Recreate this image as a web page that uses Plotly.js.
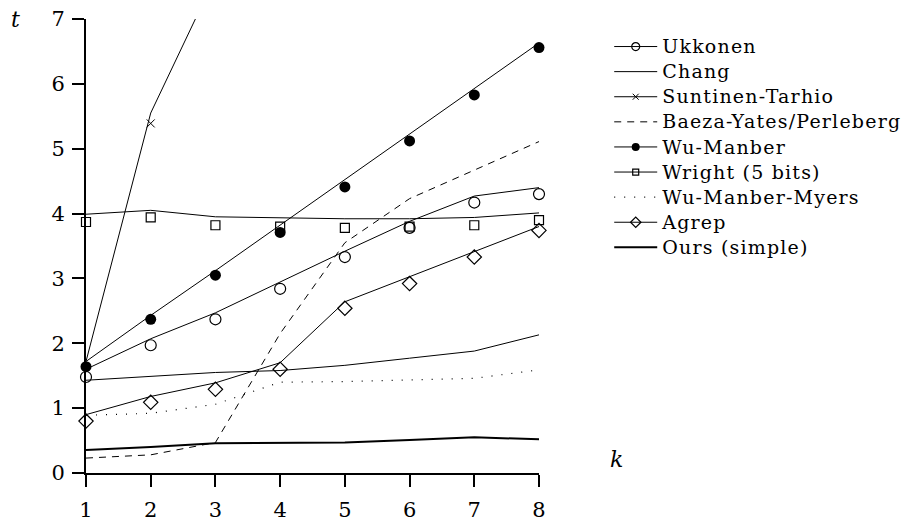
<!DOCTYPE html>
<html>
<head>
<meta charset="utf-8">
<script src="https://cdn.plot.ly/plotly-3.0.1.min.js"></script>
<style>
html,body{margin:0;padding:0;background:#fff;}
#chart{width:913px;height:523px;}
.legendtext{font-size:19px !important;letter-spacing:1.2px;}
</style>
</head>
<body>
<div id="chart"></div>
<script>
// k values (x axis)
const k = [1, 2, 3, 4, 5, 6, 7, 8];
const tickVals = [1, 2, 3, 4, 5, 6, 7, 8];
const yTickVals = [0, 1, 2, 3, 4, 5, 6, 7];

// series names
const names = ["Ukkonen", "Chang", "Suntinen-Tarhio", "Baeza-Yates/Perleberg",
  "Wu-Manber", "Wright (5 bits)", "Wu-Manber-Myers", "Agrep", "Ours (simple)"];

// Ukkonen
const ukkonenLine = [1.60, 2.07, 2.47, 2.95, 3.42, 3.88, 4.27, 4.40];
const ukkonenPts  = [1.48, 1.97, 2.37, 2.84, 3.33, 3.78, 4.17, 4.30];
// Chang
const chang = [1.43, 1.49, 1.55, 1.58, 1.66, 1.77, 1.88, 2.13];
// Suntinen-Tarhio
const suntLine = [1.72, 5.55, 7.65, null, null, null, null, null];
const suntPts  = [null, 5.39, null, null, null, null, null, null];
// Baeza-Yates/Perleberg
const baeza = [0.23, 0.28, 0.47, 2.15, 3.55, 4.23, 4.67, 5.11];
// Wu-Manber
const wmLine = [1.72, 2.43, 3.12, 3.82, 4.53, 5.23, 5.93, 6.63];
const wmPts  = [1.64, 2.37, 3.05, 3.71, 4.41, 5.12, 5.83, 6.56];
// Wright (5 bits)
const wrightLine = [3.99, 4.05, 3.95, 3.93, 3.92, 3.92, 3.94, 4.01];
const wrightPts  = [3.87, 3.94, 3.82, 3.80, 3.78, 3.80, 3.82, 3.90];
// Wu-Manber-Myers
const wmm = [0.89, 0.92, 1.06, 1.40, 1.41, 1.43, 1.46, 1.59];
// Agrep
const agrepLine = [0.90, 1.18, 1.39, 1.70, 2.64, 3.03, 3.41, 3.80];
const agrepPts  = [0.80, 1.09, 1.29, 1.60, 2.54, 2.92, 3.33, 3.74];
// Ours (simple)
const ours = [0.355, 0.40, 0.46, 0.46, 0.47, 0.51, 0.55, 0.52];

const FONT = "DejaVu Serif";
const thin = {color: "#000", width: 1};

function lineTrace(y, name, line, show) {
  return {x: k, y: y, name: name, mode: "lines", line: line,
    showlegend: !!show, legendgroup: name, hoverinfo: "skip", connectgaps: false};
}
function ptsTrace(y, name, marker) {
  return {x: k, y: y, name: name, mode: "markers", marker: marker,
    showlegend: false, legendgroup: name, hoverinfo: "skip", cliponaxis: false};
}
function legendTrace(name, line, marker) {
  return {x: [null], y: [null], name: name, mode: "lines+markers",
    line: line, marker: Object.assign({}, marker, {size: Math.max(6, marker.size - 3)}),
    showlegend: true, legendgroup: name, hoverinfo: "skip"};
}

const mUkk = {symbol: "circle-open", size: 11, color: "#000", line: {width: 1.2, color: "#000"}};
const mSunt = {symbol: "x-thin-open", size: 8, color: "#000", line: {width: 1, color: "#000"}};
const mWM = {symbol: "circle", size: 11, color: "#000", line: {width: 0}};
const mWright = {symbol: "square-open", size: 9, color: "#000", line: {width: 1.2, color: "#000"}};
const mAgrep = {symbol: "diamond-open", size: 11, color: "#000", line: {width: 1.2, color: "#000"}};

const dashLine = {color: "#000", width: 1, dash: "7px,6px"};
const dotLine = {color: "#000", width: 1.2, dash: "1px,9px"};
const thick = {color: "#000", width: 2};

const data = [
  // legend entries in order
  legendTrace(names[0], thin, mUkk),
  lineTrace(chang, names[1], thin, true),
  legendTrace(names[2], thin, mSunt),
  lineTrace(baeza, names[3], dashLine, true),
  legendTrace(names[4], thin, mWM),
  legendTrace(names[5], thin, mWright),
  lineTrace(wmm, names[6], dotLine, true),
  legendTrace(names[7], thin, mAgrep),
  lineTrace(ours, names[8], thick, true),
  // plotted lines and points
  lineTrace(ukkonenLine, names[0], thin, false),
  ptsTrace(ukkonenPts, names[0], mUkk),
  lineTrace(suntLine, names[2], thin, false),
  ptsTrace(suntPts, names[2], mSunt),
  lineTrace(wmLine, names[4], thin, false),
  ptsTrace(wmPts, names[4], mWM),
  lineTrace(wrightLine, names[5], thin, false),
  ptsTrace(wrightPts, names[5], mWright),
  lineTrace(agrepLine, names[7], thin, false),
  ptsTrace(agrepPts, names[7], mAgrep)
];

const layout = {
  width: 913, height: 523,
  paper_bgcolor: "#fff", plot_bgcolor: "#fff",
  margin: {l: 86, r: 374, t: 19, b: 50, autoexpand: false},
  font: {family: FONT, color: "#000", size: 21},
  showlegend: true,
  legend: {
    x: 1.155, xref: "paper", xanchor: "left",
    y: 0.978, yref: "paper", yanchor: "top",
    font: {family: FONT, size: 17, color: "#000"},
    bgcolor: "rgba(0,0,0,0)", borderwidth: 0, traceorder: "normal",
    itemwidth: 43, itemclick: false
  },
  xaxis: {
    range: [1, 8], tickvals: tickVals, ticktext: tickVals.map(String),
    showgrid: false, zeroline: false, showline: true, linecolor: "#000", linewidth: 2,
    ticks: "outside", ticklen: 12, tickwidth: 2, tickcolor: "#000",
    ticklabelstandoff: 5, tickfont: {family: FONT, size: 21, color: "#000"},
    fixedrange: true
  },
  yaxis: {
    range: [0, 7], tickvals: yTickVals, ticktext: yTickVals.map(String),
    showgrid: false, zeroline: false, showline: true, linecolor: "#000", linewidth: 2,
    ticks: "outside", ticklen: 12, tickwidth: 2, tickcolor: "#000",
    ticklabelstandoff: 3, tickfont: {family: FONT, size: 21, color: "#000"},
    fixedrange: true
  },
  annotations: [
    {text: "t", xref: "paper", yref: "paper", x: -0.155, y: 1.0, xanchor: "center", yanchor: "middle",
     showarrow: false, font: {family: FONT, size: 22, color: "#000", style: "italic"}},
    {text: "k", xref: "paper", yref: "paper", x: 1.172, y: 0.03, xanchor: "center", yanchor: "middle",
     showarrow: false, font: {family: FONT, size: 22, color: "#000", style: "italic"}}
  ]
};

Plotly.newPlot("chart", data, layout, {staticPlot: true, displayModeBar: false});
</script>
</body>
</html>
